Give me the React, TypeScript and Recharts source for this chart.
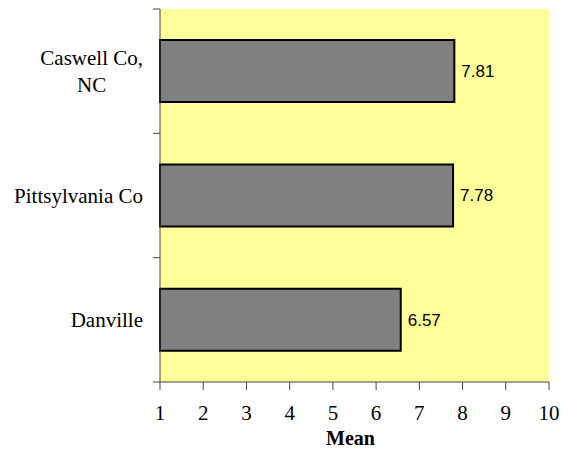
import React from "react";
import {
  BarChart,
  Bar,
  XAxis,
  YAxis,
  CartesianGrid,
  LabelList,
  Label,
} from "recharts";

const places = ["Caswell Co,\nNC", "Pittsylvania Co", "Danville"];
const means = [7.81, 7.78, 6.57];
const xTicks = [1, 2, 3, 4, 5, 6, 7, 8, 9, 10];

const data = places.map((place, i) => ({ place, mean: means[i] }));

const SERIF = "'Liberation Serif', 'Times New Roman', serif";
const SANS = "'Liberation Sans', Arial, sans-serif";
const AXIS_COLOR = "#444";
const TICK_SIZE = 7;
const TICK_MARGIN = 10;
const LINE_GAP = 27;
const FONT_SIZE = 21;

let measureCtx: CanvasRenderingContext2D | null = null;
const textWidth = (s: string, font: string) => {
  if (!measureCtx) measureCtx = document.createElement("canvas").getContext("2d");
  if (!measureCtx) return s.length * 9;
  measureCtx.font = font;
  return measureCtx.measureText(s).width;
};

// category tick: wrapped text centred as a block, marks at band edges
const PlaceTick = (props: any) => {
  const { x, y, payload, index, visibleTicksCount } = props;
  const lines: string[] = String(payload.value).split("\n");
  const half = payload.offset || 0;
  const axisX = x + TICK_MARGIN + TICK_SIZE;
  const widest = Math.max(...lines.map((l) => textWidth(l, `${FONT_SIZE}px ${SERIF}`)));
  const cx = x - widest / 2;
  const startY = y - ((lines.length - 1) * LINE_GAP) / 2;
  return (
    <g>
      <line x1={axisX - TICK_SIZE} x2={axisX} y1={y - half} y2={y - half} stroke={AXIS_COLOR} />
      {index === visibleTicksCount - 1 && (
        <line x1={axisX - TICK_SIZE} x2={axisX} y1={y + half} y2={y + half} stroke={AXIS_COLOR} />
      )}
      {lines.map((l, i) => (
        <text
          key={i}
          x={cx}
          y={startY + i * LINE_GAP}
          dy="0.35em"
          textAnchor="middle"
          fontFamily={SERIF}
          fontSize={FONT_SIZE}
          fill="#000"
        >
          {l}
        </text>
      ))}
    </g>
  );
};

export default function App() {
  return (
    <div style={{ position: "absolute", left: 0, top: 0, background: "#fff" }}>
      <BarChart
        width={569}
        height={449}
        data={data}
        layout="vertical"
        margin={{ top: 9, right: 20, bottom: 0, left: 0 }}
        barCategoryGap="25%"
      >
        <CartesianGrid fill="#FFFF99" stroke="none" horizontal={false} vertical={false} />
        <XAxis
          type="number"
          domain={[1, 10]}
          ticks={xTicks}
          interval={0}
          height={67}
          tickSize={8}
          tickMargin={15}
          stroke={AXIS_COLOR}
          tick={{ fill: "#000", fontFamily: SERIF, fontSize: FONT_SIZE }}
        >
          <Label
            value="Mean"
            position="insideBottom"
            offset={4.5}
            dx={-4}
            style={{ fontFamily: SERIF, fontSize: 20, fontWeight: 700, fill: "#000" }}
          />
        </XAxis>
        <YAxis
          type="category"
          dataKey="place"
          width={160}
          tickSize={TICK_SIZE}
          tickMargin={TICK_MARGIN}
          tickLine={false}
          stroke={AXIS_COLOR}
          interval={0}
          tick={<PlaceTick />}
        />
        <Bar
          dataKey="mean"
          fill="#808080"
          stroke="#000"
          strokeWidth={2}
          isAnimationActive={false}
        >
          <LabelList
            dataKey="mean"
            position="right"
            offset={7}
            formatter={(v: any) => Number(v).toFixed(2)}
            style={{ fontFamily: SANS, fontSize: 17, fill: "#000" }}
          />
        </Bar>
      </BarChart>
    </div>
  );
}
